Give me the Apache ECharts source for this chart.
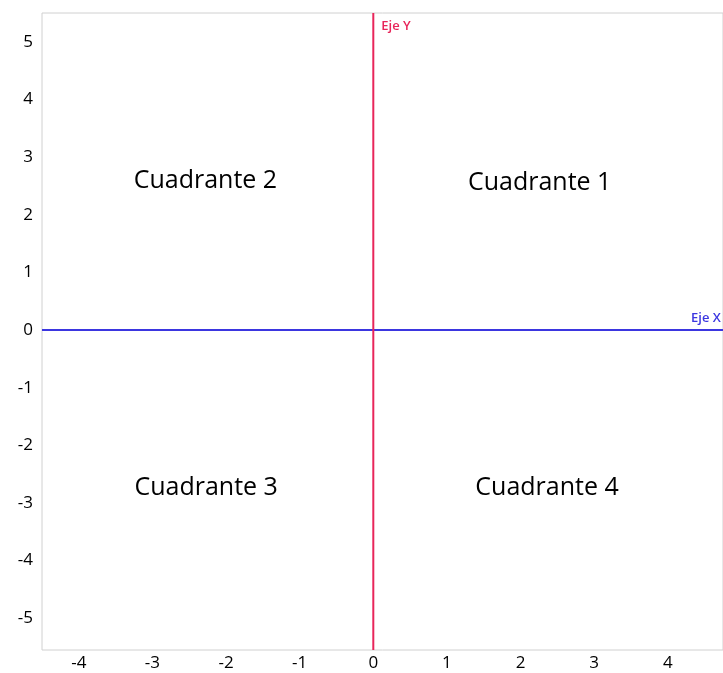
<!DOCTYPE html>
<html>
<head>
<meta charset="utf-8">
<script src="https://cdn.jsdelivr.net/npm/echarts@6/dist/echarts.min.js"></script>
<style>
  html, body { margin: 0; padding: 0; background: #fff; }
  #chart { width: 723px; height: 673px; }
</style>
</head>
<body>
<div id="chart"></div>
<script>
// rango de los ejes
const xRange = [-4.5, 4.75]
const yRange = [-5.55, 5.5]
// marcas de los ejes
const xTicks = [-4, -3, -2, -1, 0, 1, 2, 3, 4]
const yTicks = [-5, -4, -3, -2, -1, 0, 1, 2, 3, 4, 5]
// etiquetas de los cuadrantes
const quadrantNames = ['Cuadrante 1', 'Cuadrante 2', 'Cuadrante 3', 'Cuadrante 4']
const quadrantPos = [[2.26, 2.56], [-2.28, 2.58], [-2.27, -2.74], [2.36, -2.74]]
// ejes dibujados
const ejeY = [[0, yRange[0]], [0, yRange[1]]]
const ejeX = [[xRange[0], 0], [xRange[1], 0]]

const font = '"Open Sans", "Noto Sans", sans-serif'
const red = '#e8255a'
const blue = '#3b36e0'

let chart = echarts.init(document.getElementById('chart'))
chart.setOption({
  animation: false,
  grid: {
    left: 42,
    top: 13,
    right: -2,
    bottom: 23,
    show: true,
    borderColor: '#d0d0d0',
    borderWidth: 1
  },
  xAxis: {
    type: 'value',
    min: xRange[0],
    max: xRange[1],
    axisLine: { show: false },
    axisTick: { show: false },
    splitLine: { show: false },
    axisLabel: {
      customValues: xTicks,
      margin: 5,
      color: '#000',
      fontSize: 17,
      fontFamily: font
    }
  },
  yAxis: {
    type: 'value',
    min: yRange[0],
    max: yRange[1],
    axisLine: { show: false },
    axisTick: { show: false },
    splitLine: { show: false },
    axisLabel: {
      customValues: yTicks,
      margin: 9,
      color: '#000',
      fontSize: 17,
      fontFamily: font
    }
  },
  series: [
    {
      type: 'line',
      data: ejeX,
      symbol: 'none',
      lineStyle: { color: blue, width: 2 },
      endLabel: {
        show: true,
        formatter: 'Eje X',
        color: blue,
        fontSize: 13,
        fontWeight: 600,
        fontFamily: font,
        offset: [-40, -12]
      }
    },
    {
      type: 'line',
      data: ejeY,
      symbol: 'none',
      lineStyle: { color: red, width: 2 },
      endLabel: {
        show: true,
        formatter: 'Eje Y',
        color: red,
        fontSize: 13,
        fontWeight: 600,
        fontFamily: font,
        offset: [0, 13]
      }
    },
    {
      type: 'scatter',
      symbolSize: 0,
      itemStyle: { opacity: 1 },
      data: quadrantPos.map((p, i) => ({ value: p, name: quadrantNames[i] })),
      label: {
        show: true,
        position: 'inside',
        formatter: '{b}',
        color: '#000',
        fontSize: 25,
        fontFamily: font
      }
    }
  ]
})
</script>
</body>
</html>
